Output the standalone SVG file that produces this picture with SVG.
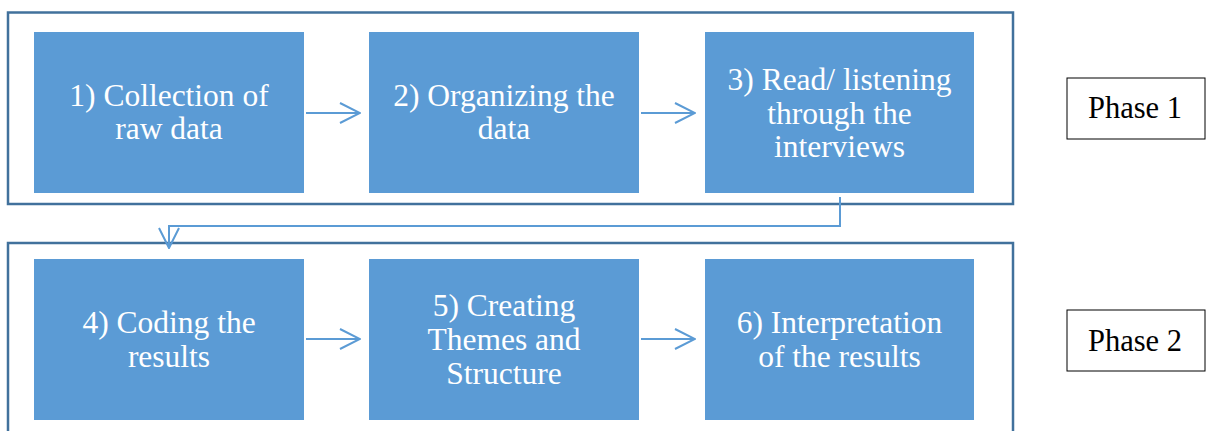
<svg xmlns="http://www.w3.org/2000/svg" width="1206" height="431" viewBox="0 0 1206 431">
  <style>
    .frame { fill: none; stroke: #41719C; stroke-width: 2.5; }
    .step { fill: #5B9BD5; }
    .step-text { font-family: "Liberation Serif", "Times New Roman", serif; font-size: 31.5px; fill: #FFFFFF; text-anchor: middle; }
    .phase { fill: #FFFFFF; stroke: #000000; stroke-width: 1; }
    .phase-text { font-family: "Liberation Serif", "Times New Roman", serif; font-size: 30.5px; fill: #000000; text-anchor: middle; }
    .link { fill: none; stroke: #5B9BD5; stroke-width: 2; }
  </style>
  <defs>
    <!-- open chevron arrowhead -->
    <marker id="chev" viewBox="0 0 22 22" refX="21" refY="11" markerWidth="22" markerHeight="22" markerUnits="userSpaceOnUse" orient="auto">
      <path d="M1,1 L21,11 L1,21" fill="none" stroke="#5B9BD5" stroke-width="2"/>
    </marker>
  </defs>

  <!-- phase frames -->
  <g id="frames">
    <rect class="frame" x="8" y="12.5" width="1005" height="191.5"/>
    <rect class="frame" x="8" y="243" width="1005" height="200"/>
  </g>

  <!-- connectors -->
  <g id="connectors">
    <line class="link" x1="306" y1="113" x2="360" y2="113" marker-end="url(#chev)"/>
    <line class="link" x1="641" y1="113" x2="695" y2="113" marker-end="url(#chev)"/>
    <polyline class="link" points="840,197 840,226 169,226 169,248" marker-end="url(#chev)"/>
    <line class="link" x1="306" y1="339" x2="360" y2="339" marker-end="url(#chev)"/>
    <line class="link" x1="641" y1="339" x2="695" y2="339" marker-end="url(#chev)"/>
  </g>

  <g id="step1">
    <rect class="step" x="34" y="32" width="270" height="161"/>
    <text class="step-text" x="169" y="106">1) Collection of</text>
    <text class="step-text" x="169" y="139">raw data</text>
  </g>
  <g id="step2">
    <rect class="step" x="369" y="32" width="270" height="161"/>
    <text class="step-text" x="504" y="106">2) Organizing the</text>
    <text class="step-text" x="504" y="139">data</text>
  </g>
  <g id="step3">
    <rect class="step" x="705" y="32" width="269" height="161"/>
    <text class="step-text" x="839.5" y="90">3) Read/ listening</text>
    <text class="step-text" x="839.5" y="123.5">through the</text>
    <text class="step-text" x="839.5" y="157">interviews</text>
  </g>
  <g id="step4">
    <rect class="step" x="34" y="259" width="270" height="161"/>
    <text class="step-text" x="169" y="333">4) Coding the</text>
    <text class="step-text" x="169" y="366.5">results</text>
  </g>
  <g id="step5">
    <rect class="step" x="369" y="259" width="270" height="161"/>
    <text class="step-text" x="504" y="315.5">5) Creating</text>
    <text class="step-text" x="504" y="349.5">Themes and</text>
    <text class="step-text" x="504" y="383.5">Structure</text>
  </g>
  <g id="step6">
    <rect class="step" x="705" y="259" width="269" height="161"/>
    <text class="step-text" x="839.5" y="333">6) Interpretation</text>
    <text class="step-text" x="839.5" y="366.5">of the results</text>
  </g>

  <g id="phase1">
    <rect class="phase" x="1067" y="78" width="138" height="61"/>
    <text class="phase-text" x="1135" y="118">Phase 1</text>
  </g>
  <g id="phase2">
    <rect class="phase" x="1067" y="310" width="138" height="61"/>
    <text class="phase-text" x="1135" y="351">Phase 2</text>
  </g>
</svg>
